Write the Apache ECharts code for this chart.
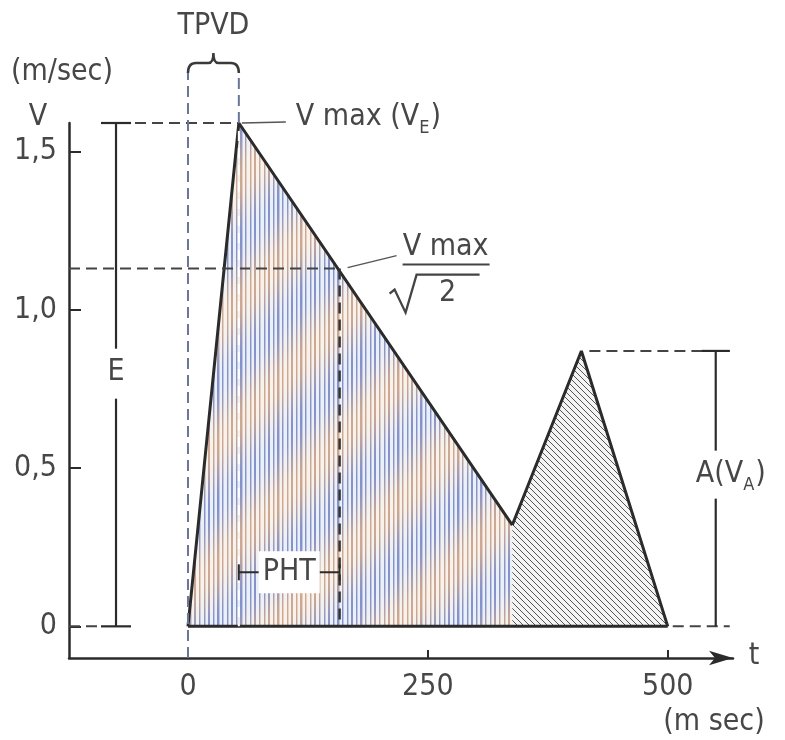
<!DOCTYPE html>
<html><head><meta charset="utf-8">
<script src="https://cdn.jsdelivr.net/npm/echarts@6/dist/echarts.min.js"></script>
<style>html,body{margin:0;padding:0;background:#fff}#c{width:785px;height:740px}</style>
</head><body><div id="c"></div>
<script>
// ---- data ----
const eWave = [[0, 0], [53, 1.59], [338, 0.32]];       // E wave: start, peak (Vmax), end
const aWave = [[338, 0.32], [410, 0.87], [500, 0]];    // A wave: start, peak (VA), end
const baseLine = [[0, 0], [500, 0]];
const xTicks = [0, 250, 500];
const xTickLabels = ['0', '250', '500'];
const yTicks = [0, 0.5, 1, 1.5];
const yTickLabels = ['0', '0,5', '1,0', '1,5'];
const vMax = 1.59;        // Vmax (VE)
const vMaxRoot2 = 1.13;   // Vmax / sqrt(2)
const tPeak = 53;         // end of TPVD
const tPHT = 158;         // end of PHT
const tA = 410, vA = 0.87, tEnd = 500;
const tEBracket = -75, tABracket = 550;
const xMin = -124, xMax = 568, yMin = -0.1, yMax = 1.59;

const FONT = '"Liberation Sans Narrow","DejaVu Sans Condensed","Arial Narrow",sans-serif';
const INK = '#2b2b2b', TXT = '#474747', DASHBLUE = '#6a7698';

function makeEPattern() {
  const S = 120, cv = document.createElement('canvas'); cv.width = S; cv.height = S;
  const g = cv.getContext('2d'); const img = g.createImageData(S, S);
  const n = 26;
  const blue = [132, 146, 204], org = [206, 168, 146];
  for (let y = 0; y < S; y++) for (let x = 0; x < S; x++) {
    const w = (Math.cos(2 * Math.PI * (x + y) / S) + 1) / 2;
    const lc = blue.map((v, i) => v * w + org[i] * (1 - w));
    const bg = [248 - 14 * w, 242 - 2 * w, 234 + 14 * w];
    const pos = (x * n / S) % 1;
    const cov = pos < 0.3 ? 1 : (pos < 0.45 ? 0.45 : 0);
    const k = (y * S + x) * 4;
    for (let i = 0; i < 3; i++) img.data[k + i] = Math.round(lc[i] * cov + bg[i] * (1 - cov));
    img.data[k + 3] = 255;
  }
  g.putImageData(img, 0, 0);
  return cv;
}
function makeAPattern() {
  const S = 6, cv = document.createElement('canvas'); cv.width = S; cv.height = S;
  const g = cv.getContext('2d');
  g.fillStyle = '#f4f4f4'; g.fillRect(0, 0, S, S);
  g.strokeStyle = '#555555'; g.lineWidth = 1.0;
  [-S, 0, S].forEach(k => { g.beginPath(); g.moveTo(k - 1, -1); g.lineTo(k + S + 1, S + 1); g.stroke(); });
  return cv;
}
const measureCtx = document.createElement('canvas').getContext('2d');
function tw(text, size) { measureCtx.font = size + 'px ' + FONT; return measureCtx.measureText(text).width; }

function renderAnno(params, api) {
  const c = (t, v) => api.coord([t, v]);
  const kids = [];
  const L = (x1, y1, x2, y2, s) => kids.push({ type: 'line', shape: { x1, y1, x2, y2 }, style: Object.assign({ stroke: INK, lineWidth: 2 }, s || {}) });
  const T = (x, y, text, s) => kids.push({ type: 'text', x, y, style: Object.assign({ text, fill: TXT, font: '30px ' + FONT, align: 'center', verticalAlign: 'middle' }, s || {}) });
  const dash = { lineDash: [11, 6] };
  const pPeak = c(tPeak, vMax), p0 = c(0, 0), pAxB = c(0, yMin);
  const braceB = pPeak[1] - 50, braceS = pPeak[1] - 60, braceT = pPeak[1] - 70;

  // E bracket
  const eTop = c(tEBracket, vMax), eBot = c(tEBracket, 0);
  const eMid = (eTop[1] + eBot[1]) / 2;
  L(c(xMin, 0)[0], eBot[1], eBot[0] - 15, eBot[1], Object.assign({ stroke: '#444' }, dash));
  L(eTop[0] - 15, eTop[1], pPeak[0], pPeak[1], Object.assign({ stroke: '#444' }, dash));
  L(eTop[0], eTop[1], eTop[0], eMid - 26, { lineWidth: 2.2 });
  L(eTop[0], eMid + 24, eBot[0], eBot[1], { lineWidth: 2.2 });
  L(eTop[0] - 15, eTop[1], eTop[0] + 15, eTop[1], { lineWidth: 2.2 });
  L(eBot[0] - 15, eBot[1], eBot[0] + 15, eBot[1], { lineWidth: 2.2 });
  T(eTop[0], eMid - 2, 'E');

  // Vmax/sqrt2 dashed
  const P = c(tPHT, vMaxRoot2);
  L(c(xMin, vMaxRoot2)[0], P[1], P[0], P[1], Object.assign({ stroke: '#444' }, dash));
  L(P[0], P[1], P[0], p0[1], Object.assign({ stroke: '#333', lineWidth: 2.5 }, dash));

  // TPVD verticals and brace
  L(p0[0], pAxB[1], p0[0], braceB, Object.assign({ stroke: DASHBLUE, lineWidth: 2 }, dash));
  L(pPeak[0], pPeak[1], pPeak[0], braceB, Object.assign({ stroke: DASHBLUE, lineWidth: 2 }, dash));
  L(pPeak[0], pPeak[1] + 8, pPeak[0], p0[1], Object.assign({ stroke: '#ffffff', lineWidth: 2 }, { lineDash: [10, 7] }));
  const x0 = p0[0], x1 = pPeak[0], xm = (x0 + x1) / 2;
  kids.push({ type: 'path', shape: { pathData:
    `M${x0} ${braceB} Q${x0} ${braceS} ${x0 + 8} ${braceS} L${xm - 5} ${braceS} Q${xm} ${braceS} ${xm} ${braceT} Q${xm} ${braceS} ${xm + 5} ${braceS} L${x1 - 8} ${braceS} Q${x1} ${braceS} ${x1} ${braceB}` },
    style: { fill: null, stroke: '#3a3a3a', lineWidth: 2.5 } });
  T(xm, pPeak[1] - 97, 'TPVD');

  // Vmax label
  L(pPeak[0] + 3, pPeak[1], pPeak[0] + 47, pPeak[1] - 1, { stroke: '#555', lineWidth: 1.5 });
  let lx = pPeak[0] + 57, ly = pPeak[1] - 6;
  const s1 = 'V max (V';
  T(lx, ly, s1, { align: 'left' });
  lx += tw(s1, 30);
  T(lx, ly + 11, 'E', { align: 'left', font: '18px ' + FONT });
  lx += tw('E', 18) + 1;
  T(lx, ly, ')', { align: 'left' });

  // Vmax / sqrt2 label
  L(P[0] + 8, P[1] - 1, P[0] + 57, P[1] - 13, { stroke: '#555', lineWidth: 1.5 });
  T(P[0] + 106, P[1] - 21, 'V max');
  L(P[0] + 63, P[1] - 4, P[0] + 150, P[1] - 4, { stroke: '#444', lineWidth: 2 });
  kids.push({ type: 'polyline', shape: { points: [[P[0] + 50, P[1] + 25], [P[0] + 55, P[1] + 21], [P[0] + 66, P[1] + 44], [P[0] + 77, P[1] + 6], [P[0] + 140, P[1] + 6]] },
    style: { fill: null, stroke: '#444', lineWidth: 2.3 } });
  T(P[0] + 108, P[1] + 25, '2');

  // PHT
  const py = p0[1] - 54, pl = c(tPeak, 0)[0], pr = P[0];
  L(pl, py, pr, py, { lineWidth: 2 });
  L(pl, py - 8, pl, py + 8, { lineWidth: 2 });
  L(pr, py - 8, pr, py + 8, { lineWidth: 2 });
  T((pl + pr) / 2, py, 'PHT', { backgroundColor: '#ffffff', padding: [6, 4, 6, 4] });

  // A bracket
  const pA = c(tA, vA), aTop = c(tABracket, vA), aBot = c(tABracket, 0), pEnd = c(tEnd, 0);
  L(pA[0] + 8, pA[1], aTop[0] + 14, aTop[1], Object.assign({ stroke: '#444' }, dash));
  L(pEnd[0] + 5, pEnd[1], aBot[0] + 14, aBot[1], Object.assign({ stroke: '#444' }, dash));
  L(aTop[0] - 14, aTop[1], aTop[0] + 14, aTop[1], { lineWidth: 2.2 });
  const aMid = (aTop[1] + aBot[1]) / 2 - 14;
  L(aTop[0], aTop[1], aTop[0], aMid - 24, { lineWidth: 2.2 });
  L(aTop[0], aMid + 24, aBot[0], aBot[1], { lineWidth: 2.2 });
  let ax = aTop[0] - 20;
  T(ax, aMid, 'A(V', { align: 'left' });
  ax += tw('A(V', 30);
  T(ax, aMid + 11, 'A', { align: 'left', font: '18px ' + FONT });
  ax += tw('A', 18) + 1;
  T(ax, aMid, ')', { align: 'left' });

  // axis names
  const axEnd = c(xMax, yMin), axTop = c(xMin, yMax);
  T(axEnd[0] + 21, axEnd[1] - 2, 't');
  T(axEnd[0] - 19, axEnd[1] + 64, '(m sec)');
  T(axTop[0] - 7, axTop[1] - 51, '(m/sec)');
  T(axTop[0] - 31, axTop[1] - 6, 'V');
  return { type: 'group', children: kids };
}

const chart = echarts.init(document.getElementById('c'), null, { renderer: 'canvas' });
chart.setOption({
  animation: false,
  backgroundColor: '#ffffff',
  grid: { left: 69, top: 123, width: 664, height: 535, containLabel: false },
  xAxis: {
    type: 'value', min: xMin, max: xMax,
    axisLine: { show: true, onZero: false, symbol: ['none', 'arrow'], symbolSize: [11, 24], lineStyle: { color: INK, width: 2.5 } },
    axisTick: { show: true, inside: true, length: 8, customValues: xTicks, lineStyle: { color: INK, width: 2 } },
    axisLabel: { show: true, customValues: xTicks, margin: 14, color: TXT, fontSize: 30, fontFamily: FONT,
      formatter: v => xTickLabels[xTicks.indexOf(v)] },
    splitLine: { show: false }
  },
  yAxis: {
    type: 'value', min: yMin, max: yMax,
    axisLine: { show: true, onZero: false, lineStyle: { color: INK, width: 2.5 } },
    axisTick: { show: true, inside: true, length: 12, customValues: yTicks, lineStyle: { color: INK, width: 2 } },
    axisLabel: { show: true, customValues: yTicks, margin: 12, color: TXT, fontSize: 30, fontFamily: FONT,
      formatter: v => yTickLabels[yTicks.indexOf(v)] },
    splitLine: { show: false }
  },
  series: [
    { type: 'line', data: eWave, symbol: 'none', z: 2,
      lineStyle: { color: INK, width: 3 },
      areaStyle: { origin: 'auto', opacity: 1, color: { image: makeEPattern(), repeat: 'repeat' } } },
    { type: 'line', data: aWave, symbol: 'none', z: 2,
      lineStyle: { color: INK, width: 3 },
      areaStyle: { origin: 'auto', opacity: 1, color: { image: makeAPattern(), repeat: 'repeat' } } },
    { type: 'line', data: baseLine, symbol: 'none', z: 3, lineStyle: { color: INK, width: 3 } },
    { type: 'custom', data: [[0, 0]], z: 5, clip: false, renderItem: renderAnno, silent: true }
  ]
});
</script>
</body></html>
